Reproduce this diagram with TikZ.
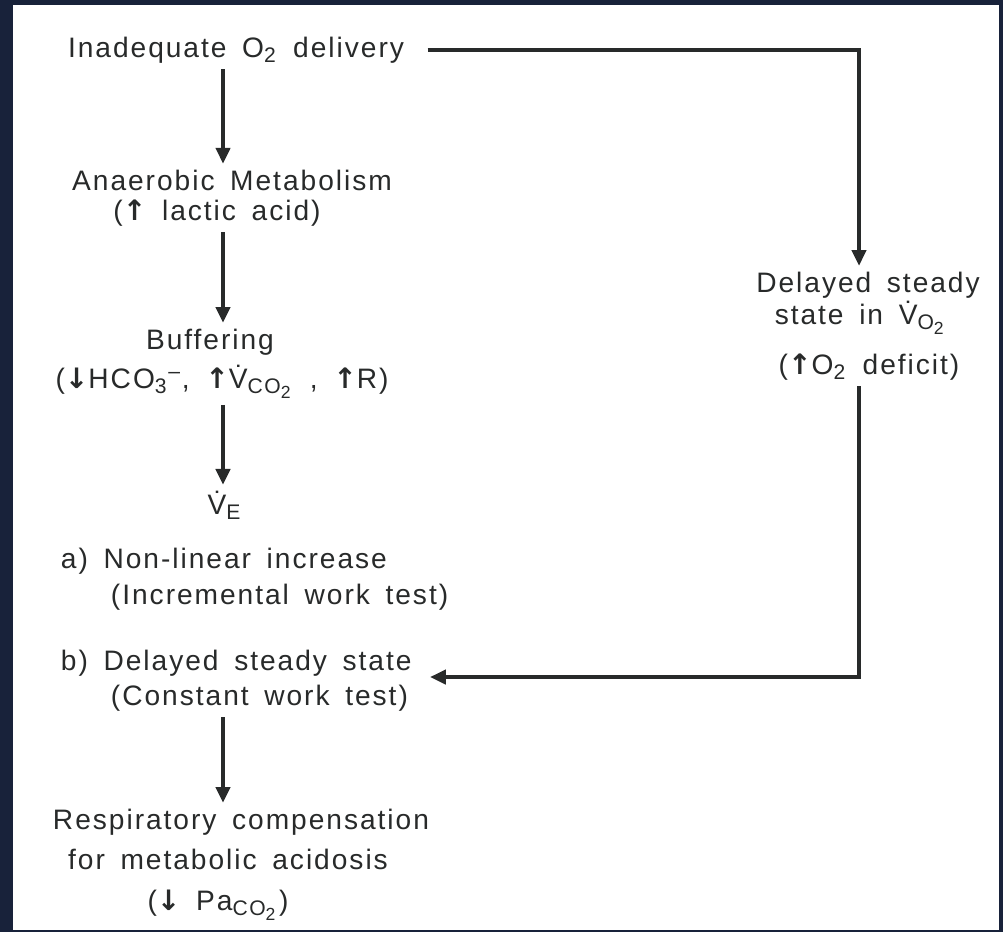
\documentclass[tikz,border=0pt]{standalone}
\usepackage{fontspec}
\setmainfont{Liberation Sans}[LetterSpace=7,WordSpace=1.6]
\newfontfamily\arrowfont{DejaVu Sans}
\usetikzlibrary{arrows.meta}
\definecolor{navy}{RGB}{24,34,58}
\definecolor{ink}{RGB}{40,42,42}
\newcommand{\upar}{{\arrowfont\bfseries ↑}}
\newcommand{\dnar}{{\arrowfont\bfseries ↓}}
\newcommand{\Vdt}{V̇}

\begin{document}
\begin{tikzpicture}[x=0.01cm,y=-0.01cm,
    lbl/.style={text=ink,font=\fontsize{8}{9.5}\selectfont,inner sep=1.5pt},
    flow/.style={draw=ink,line width=1.15pt,-{Triangle[width=4pt,length=4.5pt]}}]
    \fill[navy] (0,0) rectangle (1003,932);
    \fill[white] (13,5) rectangle (999,930);
    \useasboundingbox (0,0) rectangle (1003,932);
    \coordinate (spine) at (223,0);
    \coordinate (rail) at (859,0);
    \coordinate (bin) at (430,677);
    \node[lbl] (inad) at (236,50) {Inadequate O\textsubscript{2} delivery};
    \node[lbl] (anaer) at (232,180) {Anaerobic Metabolism};
    \node[lbl] (lactic) at (217,213) {(\upar\ lactic acid)};
    \node[lbl] (buff) at (210,342) {Buffering};
    \node[lbl] (bufflist) at (222,382) {(\dnar HCO\textsubscript{3}\textsuperscript{--}, \upar\Vdt\textsubscript{CO\textsubscript{2}} , \upar R)};
    \node[lbl] (ve) at (225,505) {\Vdt\textsubscript{E}};
    \node[lbl,anchor=west] (lina) at (55,561) {a) Non-linear increase};
    \node[lbl,anchor=west] (incr) at (105,597) {(Incremental work test)};
    \node[lbl,anchor=west] (linb) at (55,663) {b) Delayed steady state};
    \node[lbl,anchor=west] (const) at (105,698) {(Constant work test)};
    \node[lbl] (resp) at (241,822) {Respiratory compensation};
    \node[lbl] (meta) at (228,859) {for metabolic acidosis};
    \node[lbl] (paco) at (218,905) {(\dnar\ Pa\textsubscript{CO\textsubscript{2}})};
    \node[lbl] (dss) at (868,285) {Delayed steady};
    \node[lbl] (inv) at (861,318) {state in \Vdt\textsubscript{O\textsubscript{2}}};
    \node[lbl] (deficit) at (869,367) {(\upar O\textsubscript{2} deficit)};
    \draw[flow] (inad.south -| spine) -- (anaer.north -| spine);
    \draw[flow] (lactic.south -| spine) -- (buff.north -| spine);
    \draw[flow] (bufflist.south -| spine) -- (ve.north -| spine);
    \draw[flow] (const.south -| spine) -- (resp.north -| spine);
    \draw[flow,shorten <=5pt] (inad.east) -| (dss.north -| rail);
    \draw[flow] (deficit.south -| rail) |- (bin);
\end{tikzpicture}
\end{document}
